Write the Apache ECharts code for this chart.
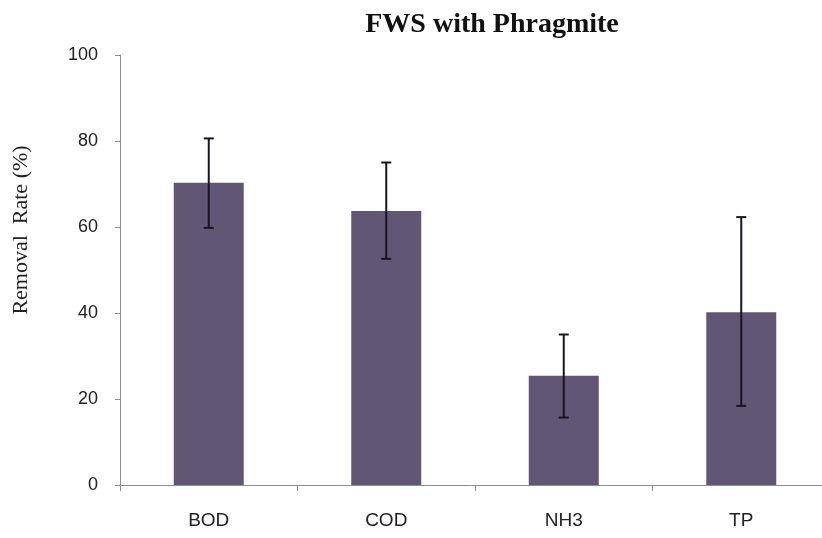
<!DOCTYPE html>
<html>
<head>
<meta charset="utf-8">
<script src="https://cdn.jsdelivr.net/npm/echarts@6/dist/echarts.min.js"></script>
<style>html,body{margin:0;padding:0;background:#fff;}#main{width:822px;height:538px;}</style>
</head>
<body>
<div id="main"></div>
<script>
var categories = ['BOD', 'COD', 'NH3', 'TP'];
var removalRate = [70.3, 63.7, 25.4, 40.2];
var errorLow = [59.8, 52.6, 15.7, 18.4];
var errorHigh = [80.6, 75.0, 35.0, 62.3];
var yTicks = [0, 20, 40, 60, 80, 100];

var errData = categories.map(function (c, i) { return [i, errorLow[i], errorHigh[i]]; });

var chart = echarts.init(document.getElementById('main'));
chart.setOption({
  backgroundColor: '#ffffff',
  animation: false,
  title: {
    text: 'FWS with Phragmite',
    left: 487, top: 6, textAlign: 'center',
    textStyle: { fontFamily: 'Liberation Serif', fontWeight: 'bold', fontSize: 28, color: '#111' }
  },
  grid: { left: 120, top: 55, bottom: 53, right: -8, containLabel: false, outerBoundsMode: 'none' },
  xAxis: {
    type: 'category', data: categories, boundaryGap: true,
    axisLine: { lineStyle: { color: '#8e8a9e', width: 1 } },
    axisTick: { show: true, alignWithLabel: false, length: 6, lineStyle: { color: '#8e8a9e' } },
    axisLabel: { margin: 26, fontFamily: 'Liberation Sans', fontSize: 19, color: '#222' }
  },
  yAxis: {
    type: 'value', min: 0, max: 100, interval: 20,
    name: 'Removal  Rate (%)', nameLocation: 'middle', nameGap: 88,
    nameTextStyle: { fontFamily: 'Liberation Serif', fontSize: 22, color: '#222', padding: [0, 0, 0, 80] },
    axisLine: { show: true, lineStyle: { color: '#8e8a9e', width: 1 } },
    axisTick: { show: true, length: 5, inside: false, lineStyle: { color: '#8e8a9e' } },
    axisLabel: { margin: 22, fontFamily: 'Liberation Sans', fontSize: 18, color: '#222',
      formatter: function (v) { return yTicks.indexOf(v) >= 0 ? String(v) : ''; } },
    splitLine: { show: false }
  },
  series: [
    {
      type: 'bar', data: removalRate, barWidth: 70,
      itemStyle: { color: '#615674' }
    },
    {
      type: 'custom', data: errData, z: 10,
      renderItem: function (params, api) {
        var x = api.value(0);
        var lo = api.coord([x, api.value(1)]);
        var hi = api.coord([x, api.value(2)]);
        var hw = 5;
        var st = { stroke: '#1b1424', lineWidth: 2 };
        return {
          type: 'group',
          children: [
            { type: 'line', shape: { x1: lo[0], y1: lo[1], x2: hi[0], y2: hi[1] }, style: st },
            { type: 'line', shape: { x1: lo[0] - hw, y1: lo[1], x2: lo[0] + hw, y2: lo[1] }, style: st },
            { type: 'line', shape: { x1: hi[0] - hw, y1: hi[1], x2: hi[0] + hw, y2: hi[1] }, style: st }
          ]
        };
      }
    }
  ]
});
</script>
</body>
</html>
